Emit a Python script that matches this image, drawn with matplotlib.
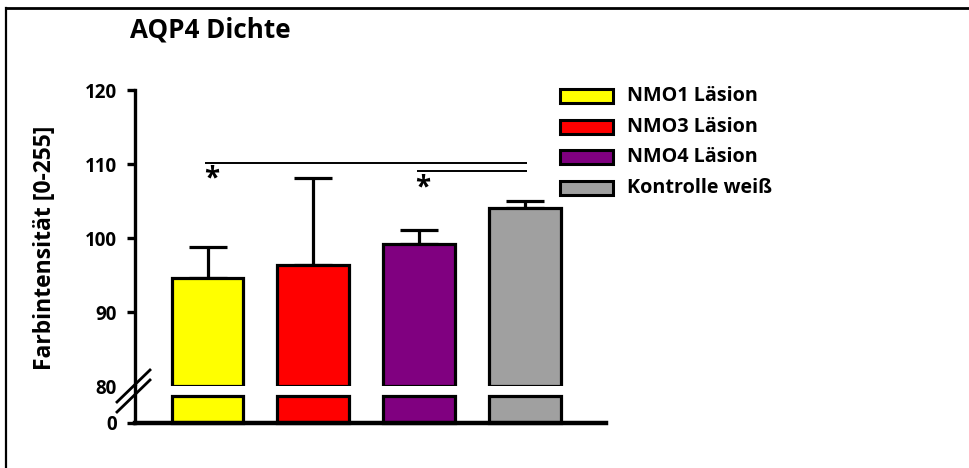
import matplotlib
matplotlib.use("Agg")
import matplotlib.pyplot as plt
from matplotlib.patches import Rectangle
from matplotlib.lines import Line2D

# values
groups = ["NMO1 Läsion", "NMO3 Läsion", "NMO4 Läsion", "Kontrolle weiß"]
means = [94.6, 96.4, 99.2, 104.1]
errors = [4.2, 11.7, 1.9, 0.9]
colors = ["#FFFF00", "#FF0000", "#800080", "#A0A0A0"]
upper_ticks = [80, 90, 100, 110, 120]
# significance brackets: (from bar, to bar, height, star height)
brackets = [(0, 3, 110.2, 108.0), (2, 3, 109.0, 106.7)]

W, H = 969, 468
plt.rcParams["font.family"] = ["Open Sans", "DejaVu Sans"]
plt.rcParams["font.weight"] = "bold"

fig = plt.figure(figsize=(W / 100, H / 100), dpi=100)


def fx(px):
    return px / W


def fy(py):
    return 1 - py / H


# axis geometry in pixels
left, right = 135, 606
top, brk, bottom = 90, 386, 423
low_cap = 58  # height of the stub drawn below the break

ax = fig.add_axes([fx(left), fy(brk), fx(right - left), fy(top) - fy(brk)])
axl = fig.add_axes([fx(left), fy(bottom), fx(right - left), fy(brk) - fy(bottom)])

x = list(range(len(groups)))
xlim = (-0.686, 3.77)
bw = 0.68

ax.bar(x, [m - 80 for m in means], bottom=80, width=bw, color=colors,
       edgecolor="black", linewidth=2.3, clip_on=False, zorder=3)
ax.errorbar(x, means, yerr=[[0] * 4, errors], fmt="none", ecolor="black",
            elinewidth=2.3, capsize=14, capthick=2.3, zorder=2)
axl.bar(x, [low_cap] * 4, width=bw, color=colors, edgecolor="black",
        linewidth=2.3, clip_on=False, zorder=3)

for a in (ax, axl):
    a.set_xlim(*xlim)
    a.set_xticks([])
    for s in ("top", "right"):
        a.spines[s].set_visible(False)
    a.spines["left"].set_linewidth(2.4)
    a.tick_params(axis="y", length=6, width=2.4, pad=7, labelsize=13.5)

ax.spines["bottom"].set_visible(False)
ax.set_ylim(80, 120)
ax.set_yticks(upper_ticks)
ax.set_yticklabels([str(t) for t in upper_ticks], fontweight="bold")
ax.get_yticklines()[0].set_visible(False)

axl.set_ylim(0, 80)
axl.set_yticks([0])
axl.set_yticklabels(["0"], fontweight="bold")
axl.spines["bottom"].set_linewidth(3.2)
axl.spines["bottom"].set_zorder(4)

for i0, i1, yb, ys in brackets:
    ax.plot([i0 - 0.02, i1 + 0.02], [yb, yb], color="black", lw=1.4,
            solid_capstyle="butt")
    ax.text(i0 + 0.04, ys, "*", ha="center", va="center", fontsize=20,
            fontweight="bold")

# axis break marks
for dy in (0, 10):
    fig.add_artist(Line2D([fx(117), fx(150)], [fy(402 + dy), fy(370 + dy)],
                          color="black", lw=2.0))

# legend
lx, ly0, lstep = 560, 96, 30.7
for i, (lab, c) in enumerate(zip(groups, colors)):
    yy = ly0 + i * lstep
    fig.add_artist(Rectangle((fx(lx), fy(yy + 7)), fx(53), fy(0) - fy(14),
                             facecolor=c, edgecolor="black", lw=2.2,
                             transform=fig.transFigure))
    fig.text(fx(627), fy(yy), lab, ha="left", va="center", fontsize=14.2,
             fontweight="bold")

fig.text(fx(130), fy(30), "AQP4 Dichte", ha="left", va="center",
         fontsize=18.7, fontweight="bold")
fig.text(fx(45), fy(248), "Farbintensität [0-255]", rotation=90,
         ha="center", va="center", fontsize=16.5, fontweight="bold")

# frame lines (left and top)
fig.add_artist(Line2D([fx(6), fx(6)], [0, fy(8)], color="black", lw=1.6))
fig.add_artist(Line2D([fx(6), 1], [fy(8), fy(8)], color="black", lw=2.0))

fig.savefig("out.png", dpi=100, facecolor="white")
